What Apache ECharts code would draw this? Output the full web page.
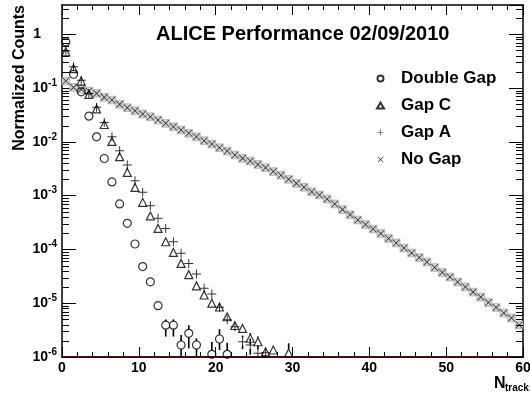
<!DOCTYPE html>
<html><head><meta charset="utf-8">
<script src="https://cdn.jsdelivr.net/npm/echarts@6/dist/echarts.min.js"></script>
<style>html,body{margin:0;padding:0;background:#fff}#c{width:530px;height:400px}</style>
</head><body><div id="c"></div>
<script>
// ---- data ----
const binCenters = [0.5,1.5,2.5,3.5,4.5,5.5,6.5,7.5,8.5,9.5,10.5,11.5,12.5,13.5,14.5,15.5,16.5,17.5,18.5,19.5,
  20.5,21.5,22.5,23.5,24.5,25.5,26.5,27.5,28.5,29.5,30.5,31.5,32.5,33.5,34.5,35.5,36.5,37.5,38.5,39.5,
  40.5,41.5,42.5,43.5,44.5,45.5,46.5,47.5,48.5,49.5,50.5,51.5,52.5,53.5,54.5,55.5,56.5,57.5,58.5,59.5];
const xTickLabels = ['0','10','20','30','40','50','60'];

const doubleGap = [0.72,0.18,0.085,0.030,0.0124,0.0049,0.0018,7.0e-4,3.05e-4,1.26e-4,4.8e-5,2.5e-5,9.0e-6,
  3.9e-6,3.9e-6,1.67e-6,2.75e-6,1.67e-6,null,1.12e-6,2.16e-6,1.12e-6];
const doubleGapErr = [[12,7.5e-6,1.07e-5],[13,2.4e-6,5.0e-6],[14,2.4e-6,5.0e-6],[15,1e-7,2.56e-6],
  [16,1.45e-6,3.9e-6],[17,1e-7,2.23e-6],[19,1e-7,1.9e-6],[20,1.35e-6,3.3e-6],[21,1e-7,1.85e-6]];

const gapC = [0.47,0.23,0.135,0.076,0.041,0.021,0.0102,0.0053,0.0027,0.00142,7.5e-4,4.2e-4,2.46e-4,1.39e-4,
  8.8e-5,5.5e-5,3.4e-5,2.1e-5,1.42e-5,1.0e-5,8.5e-6,5.6e-6,3.85e-6,3.4e-6,2.23e-6,1.92e-6,1.25e-6,1.35e-6,null,1.19e-6];
const gapCErr = [[24,1.7e-6,2.8e-6],[25,1.4e-6,2.4e-6],[29,1e-7,1.8e-6]];

const gapA = [0.49,0.25,0.14,0.079,0.044,0.023,0.0124,0.0068,0.0037,0.0019,0.00116,6.5e-4,3.8e-4,2.46e-4,
  1.39e-4,8.5e-5,5.5e-5,3.5e-5,1.9e-5,1.49e-5,8.4e-6,4.9e-6,3.66e-6,1.93e-6,1.67e-6,1.17e-6,1.2e-6];
const gapAErr = [[23,1.4e-6,2.5e-6],[24,1.1e-6,2.2e-6]];

const noGap = [0.135,0.103,0.0946,0.0879,0.0796,0.0671,0.0598,0.0498,0.0431,0.0379,0.0329,0.0293,0.0254,0.0221,
  0.0191,0.0166,0.0144,0.0124,0.0105,0.0091,0.00776,0.00675,0.00569,0.00493,0.0044,0.0038,0.0033,0.0028,0.0024,
  0.00201,0.00169,0.00143,0.00118,0.00103,8.65e-4,7.0e-4,5.5e-4,4.4e-4,3.52e-4,2.90e-4,2.39e-4,1.98e-4,1.60e-4,
  1.32e-4,1.06e-4,8.57e-5,7.06e-5,5.83e-5,4.61e-5,3.72e-5,3.07e-5,2.48e-5,2.00e-5,1.61e-5,1.30e-5,1.03e-5,
  8.32e-6,6.58e-6,5.31e-6,3.94e-6];

// ---- helpers ----
const FONT = '"Liberation Sans", Arial, Helvetica, sans-serif';
const Y_MIN = 1e-6, Y_MAX = 3.5, X_MIN = 0, X_MAX = 60;
function pts(vals){ const o=[]; vals.forEach((v,i)=>{ if(v!=null) o.push([binCenters[i], v]); }); return o; }
function errPts(errs, vals){ return errs.map(e => [binCenters[e[0]], e[1], e[2], vals[e[0]]]); }
const minorTickValues = [];
for (let d = -6; d <= 0; d++) for (let k = 2; k <= 9; k++) { const v = k * Math.pow(10, d); if (v < Y_MAX) minorTickValues.push([1, v]); }

function errRender(gap){
  return function(params, api){
    const x = api.value(0), lo = Math.max(api.value(1), Y_MIN), hi = api.value(2), v = api.value(3);
    const pH = api.coord([x, hi]), pL = api.coord([x, lo]), pV = api.coord([x, v]);
    const ch = [];
    const st = {stroke:'#000', lineWidth:1.6};
    if (pH[1] < pV[1]-gap) ch.push({type:'line', shape:{x1:pV[0], y1:pH[1], x2:pV[0], y2:pV[1]-gap}, style:st});
    if (pL[1] > pV[1]+gap) ch.push({type:'line', shape:{x1:pV[0], y1:pV[1]+gap, x2:pV[0], y2:pL[1]}, style:st});
    return {type:'group', children:ch};
  };
}
function tickRender(params, api){
  const v = api.value(1);
  const a = api.coord([X_MIN, v]), b = api.coord([X_MAX, v]);
  const ya = Math.round(a[1]) + 0.5, yb = Math.round(b[1]) + 0.5;
  const st = {stroke:'#000', lineWidth:1};
  return {type:'group', children:[
    {type:'line', shape:{x1:a[0], y1:ya, x2:a[0]+7, y2:ya}, style:st},
    {type:'line', shape:{x1:b[0]-7, y1:yb, x2:b[0], y2:yb}, style:st}
  ]};
}
function bandRender(params, api){
  const x = api.value(0), v = api.value(1);
  const p0 = api.coord([x-0.5, v*1.18]), p1 = api.coord([x+0.5, v/1.18]);
  return {type:'rect', shape:{x:p0[0], y:p0[1], width:p1[0]-p0[0], height:p1[1]-p0[1]},
    style:{fill:'#d4d4d4', stroke:'#9a9a9a', lineWidth:0.6}};
}
function yLabel(v){
  const lg = Math.log10(v), n = Math.round(lg);
  if (Math.abs(lg - n) > 0.01) return '';
  if (n === 0) return '{one|1}';
  return '{b|10}{s|' + n + '}';
}

const PLUS = 'path://M4,0h1v4h4v1h-4v4h-1v-4h-4v-1h4z';
const CROSS = 'path://M0,0.7L0.7,0L4.5,3.8L8.3,0L9,0.7L5.2,4.5L9,8.3L8.3,9L4.5,5.2L0.7,9L0,8.3L3.8,4.5Z';

const xAxisBase = {type:'value', min:X_MIN, max:X_MAX, interval:10, splitLine:{show:false},
  axisTick:{show:true, inside:true, length:10, lineStyle:{color:'#000', width:1}},
  minorTick:{show:true, splitNumber:5, length:5, lineStyle:{color:'#000', width:1}},
  minorSplitLine:{show:false}};
const yAxisBase = {type:'log', logBase:10, min:Y_MIN, max:Y_MAX, splitLine:{show:false},
  axisTick:{show:true, inside:true, length:14, lineStyle:{color:'#000', width:1}}};

const option = {
  animation:false,
  backgroundColor:'#fff',
  textStyle:{fontFamily:FONT},
  grid:{left:62, right:7, top:5, bottom:43, containLabel:false, outerBoundsMode:'none'},
  title:{text:'ALICE Performance 02/09/2010', left:156, top:24, padding:0,
    textStyle:{fontFamily:FONT, fontWeight:'bold', fontSize:20, color:'#000'}},
  legend:{orient:'vertical', left:376, top:70, itemGap:10, itemWidth:7, itemHeight:6, padding:0,
    data:['Double Gap','Gap C','Gap A','No Gap'],
    textStyle:{fontFamily:FONT, fontWeight:'bold', fontSize:17, color:'#000', padding:[0,0,0,12]}},
  xAxis:[
    Object.assign({}, xAxisBase, {position:'bottom',
      axisLine:{show:true, onZero:false, lineStyle:{color:'#3b0d0d', width:2}},
      axisLabel:{margin:4, fontFamily:FONT, fontWeight:'bold', fontSize:14, color:'#000',
        formatter:(v)=>xTickLabels[Math.round(v/10)] || ''}}),
    Object.assign({}, xAxisBase, {position:'top',
      axisLine:{show:true, onZero:false, lineStyle:{color:'#000', width:1.5}},
      axisLabel:{show:false}})
  ],
  yAxis:[
    Object.assign({}, yAxisBase, {position:'left',
      axisLine:{show:true, onZero:false, lineStyle:{color:'#000', width:1.5}},
      axisLabel:{margin:5, formatter:yLabel, showMaxLabel:false,
        rich:{
          b:{fontFamily:FONT, fontWeight:'bold', fontSize:14, color:'#000', lineHeight:20},
          s:{fontFamily:FONT, fontWeight:'bold', fontSize:10, color:'#000', lineHeight:12, verticalAlign:'top'},
          one:{fontFamily:FONT, fontWeight:'bold', fontSize:14, color:'#000', lineHeight:20, padding:[0,16,0,0]}
        }}}),
    Object.assign({}, yAxisBase, {position:'right',
      axisLine:{show:true, onZero:false, lineStyle:{color:'#000', width:1.5}},
      axisLabel:{show:false}})
  ],
  graphic:[
    {type:'text', x:19.5, y:5, rotation:Math.PI/2,
      style:{text:'Normalized Counts', font:'bold 16px ' + FONT, fill:'#000', align:'right', verticalAlign:'middle'}},
    {type:'text', x:494, y:376, style:{text:'N', font:'bold 16px ' + FONT, fill:'#000'}},
    {type:'text', x:505, y:383, style:{text:'tracks', font:'bold 10px ' + FONT, fill:'#000'}}
  ],
  series:[
    {type:'custom', name:'minorTicks', silent:true, clip:false, renderItem:tickRender,
      encode:{x:0, y:1}, data:minorTickValues, z:10},
    {type:'custom', name:'noGapBand', silent:true, renderItem:bandRender, encode:{x:0, y:1},
      data:pts(noGap), z:2},
    {type:'scatter', name:'No Gap', symbol:CROSS, symbolSize:7, data:pts(noGap),
      itemStyle:{color:'#000'}, z:3},
    {type:'custom', name:'dgErr', silent:true, renderItem:errRender(4), encode:{x:0, y:[1,2]},
      data:errPts(doubleGapErr, doubleGap), z:4},
    {type:'custom', name:'gcErr', silent:true, renderItem:errRender(4), encode:{x:0, y:[1,2]},
      data:errPts(gapCErr, gapC), z:4},
    {type:'custom', name:'gaErr', silent:true, renderItem:errRender(4), encode:{x:0, y:[1,2]},
      data:errPts(gapAErr, gapA), z:4},
    {type:'scatter', name:'Double Gap', symbol:'circle', symbolSize:8, data:pts(doubleGap),
      itemStyle:{color:'rgba(0,0,0,0)', borderColor:'#000', borderWidth:1.2}, z:5},
    {type:'scatter', name:'Gap C', symbol:'triangle', symbolSize:8, data:pts(gapC),
      itemStyle:{color:'rgba(0,0,0,0)', borderColor:'#000', borderWidth:1.2}, z:5},
    {type:'scatter', name:'Gap A', symbol:PLUS, symbolSize:9, data:pts(gapA),
      itemStyle:{color:'#000'}, z:6}
  ]
};
const chart = echarts.init(document.getElementById('c'));
chart.setOption(option);
</script>
</body></html>
